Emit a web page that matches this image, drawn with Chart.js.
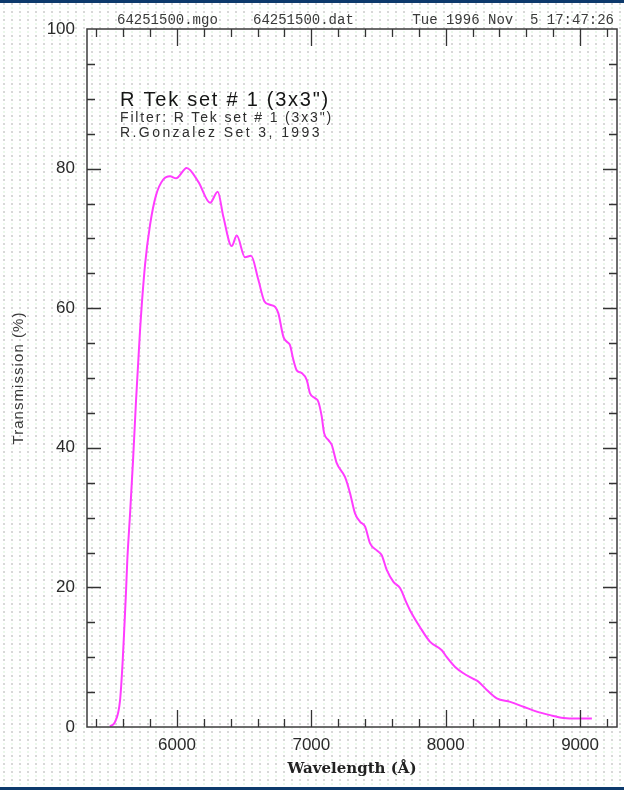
<!DOCTYPE html>
<html>
<head>
<meta charset="utf-8">
<title>R Tek set # 1 (3x3")</title>
<script src="https://cdn.jsdelivr.net/npm/chart.js@4"></script>
<style>
html, body { margin:0; padding:0; background:#fff; }
#wrap {
    position:relative; width:624px; height:790px; overflow:hidden;
    background-color:#fff;
    background-image:
        radial-gradient(circle, #cacaca 0.6px, transparent 1px),
        radial-gradient(circle, #e3f5e3 0.6px, transparent 1px);
    background-size:8px 8px, 8px 8px;
    background-position:0 0, 0 4px;
}
#wrap .bar { position:absolute; left:0; width:624px; height:3px; background:#0d3a6c; }
canvas { position:absolute; left:0; top:0; }
</style>
</head>
<body>
<div id="wrap">
    <canvas id="c" width="624" height="790"></canvas>
    <div class="bar" style="top:0"></div>
    <div class="bar" style="top:787px"></div>
</div>
<script>
// ── data ──
const wavelength = [5501, 5538, 5576, 5596, 5608, 5620, 5630, 5650, 5673, 5695,
    5725, 5762, 5799, 5844, 5896, 5948, 5993, 6072, 6159, 6246,
    6303, 6345, 6407, 6445, 6506, 6551, 6605, 6650, 6692, 6730,
    6754, 6792, 6817, 6841, 6866, 6891, 6929, 6966, 6990, 7028,
    7052, 7077, 7095, 7127, 7152, 7189, 7251, 7288, 7325, 7363,
    7400, 7437, 7487, 7524, 7561, 7611, 7660, 7710, 7735, 7809,
    7884, 7971, 8008, 8070, 8132, 8206, 8243, 8306, 8380, 8480,
    8579, 8678, 8777, 8876, 8976, 9088];
const transmission = [0.1, 0.7, 3.8, 9.6, 14.3, 19.2, 23.9, 30.4, 38.3, 46.8,
    56.9, 66.2, 71.9, 76.2, 78.4, 78.9, 78.6, 80.1, 78.1, 75.1,
    76.7, 73.1, 68.9, 70.4, 67.3, 67.5, 64.1, 61.0, 60.5, 60.2,
    59.3, 55.9, 55.2, 54.7, 52.6, 51.1, 50.7, 49.7, 47.8, 47.1,
    46.6, 44.5, 42.1, 41.1, 40.4, 37.8, 35.8, 33.5, 30.6, 29.4,
    28.7, 26.3, 25.3, 24.6, 22.5, 20.8, 19.9, 17.7, 16.7, 14.3,
    12.2, 11.0, 10.0, 8.6, 7.7, 6.9, 6.5, 5.3, 4.1, 3.6,
    2.9, 2.2, 1.7, 1.3, 1.2, 1.2];

const xLabels = [6000, 7000, 8000, 9000];
const yLabels = [0, 20, 40, 60, 80, 100];
const xRange = [5330, 9275];
const yRange = [0, 100];

const headerLeft = ['64251500.mgo', '64251500.dat'];
const headerRight = 'Tue 1996 Nov  5 17:47:26';
const titleLines = ['R Tek set # 1 (3x3")', 'Filter: R Tek set # 1 (3x3")', 'R.Gonzalez Set 3, 1993'];
const xTitle = 'Wavelength (Å)';
const yTitle = 'Transmission (%)';

// text stretched to a given width, like the old plot fonts
function spaced(ctx, text, x, y, width) {
    ctx.letterSpacing = '0px';
    const w = ctx.measureText(text).width;
    ctx.letterSpacing = Math.max(0, (width - w) / text.length) + 'px';
    ctx.fillText(text, x, y);
    ctx.letterSpacing = '0px';
}

const frame = {
    id:'frame',
    afterDraw(chart) {
        const {ctx, chartArea:a, scales:{x, y}} = chart;
        ctx.save();

        // box
        ctx.strokeStyle = '#3c3c3c';
        ctx.lineWidth = 1.5;
        ctx.strokeRect(a.left, a.top, a.right - a.left, a.bottom - a.top);

        // inward ticks, all four sides
        ctx.lineWidth = 1.3;
        ctx.strokeStyle = '#333';
        ctx.beginPath();
        for (let v = 5400; v <= 9200; v += 200) {
            const px = Math.round(x.getPixelForValue(v)) + .5;
            const len = v % 1000 === 0 ? 17 : 8;
            ctx.moveTo(px, a.bottom); ctx.lineTo(px, a.bottom - len);
            ctx.moveTo(px, a.top); ctx.lineTo(px, a.top + len);
        }
        for (let v = 5; v < 100; v += 5) {
            const py = Math.round(y.getPixelForValue(v)) + .5;
            const len = v % 20 === 0 ? 14 : 8;
            ctx.moveTo(a.left, py); ctx.lineTo(a.left + len, py);
            ctx.moveTo(a.right, py); ctx.lineTo(a.right - len, py);
        }
        ctx.stroke();

        // header line
        ctx.fillStyle = '#3a3a3a';
        ctx.font = '14px "Liberation Mono", monospace';
        ctx.textBaseline = 'middle';
        ctx.textAlign = 'left';
        ctx.fillText(headerLeft[0], 117, 20);
        ctx.fillText(headerLeft[1], 253, 20);
        ctx.textAlign = 'right';
        ctx.fillText(headerRight, 614, 20);

        // labels inside the plot
        ctx.textAlign = 'left';
        ctx.fillStyle = '#151515';
        ctx.font = '20px "Liberation Sans", Arial, sans-serif';
        spaced(ctx, titleLines[0], 120, 100, 210);
        ctx.fillStyle = '#2e2e2e';
        ctx.font = '14px "Liberation Sans", Arial, sans-serif';
        spaced(ctx, titleLines[1], 120, 118, 213);
        spaced(ctx, titleLines[2], 120, 133, 202);

        // axis titles
        ctx.fillStyle = '#222';
        ctx.font = 'bold 15px "DejaVu Serif", serif';
        ctx.textAlign = 'center';
        ctx.fillText(xTitle, 352, 769);

        ctx.fillStyle = '#3a3a3a';
        ctx.font = '15px "Liberation Sans", Arial, sans-serif';
        ctx.translate(19, 378);
        ctx.rotate(-Math.PI / 2);
        ctx.textAlign = 'left';
        spaced(ctx, yTitle, -66.5, 0, 133);
        ctx.restore();
    }
};

const tickFont = {family:'"Liberation Sans", Arial, sans-serif', size:17};

new Chart(document.getElementById('c'), {
    type:'line',
    data:{datasets:[{
        data: wavelength.map((w, i) => ({x:w, y:transmission[i]})),
        borderColor:'#ff3cff',
        borderWidth:2,
        pointRadius:0,
        cubicInterpolationMode:'monotone',
        fill:false
    }]},
    options:{
        responsive:false, animation:false, events:[],
        layout:{padding:{top:29, right:7, left:0, bottom:0}},
        plugins:{legend:{display:false}, tooltip:{enabled:false}},
        scales:{
            x:{
                type:'linear', min:xRange[0], max:xRange[1],
                grid:{display:false, drawTicks:false}, border:{display:false},
                afterBuildTicks:s => { s.ticks = xLabels.map(v => ({value:v})); },
                afterFit:s => { s.height = 63; },
                ticks:{padding:8, color:'#2a2a2a', font:tickFont, maxRotation:0, autoSkip:false, callback:v => String(v)}
            },
            y:{
                min:yRange[0], max:yRange[1],
                grid:{display:false, drawTicks:false}, border:{display:false},
                afterBuildTicks:s => { s.ticks = yLabels.map(v => ({value:v})); },
                afterFit:s => { s.width = 87; },
                ticks:{padding:12, color:'#2a2a2a', font:tickFont, autoSkip:false, callback:v => String(v)}
            }
        }
    },
    plugins:[frame]
});
</script>
</body>
</html>
